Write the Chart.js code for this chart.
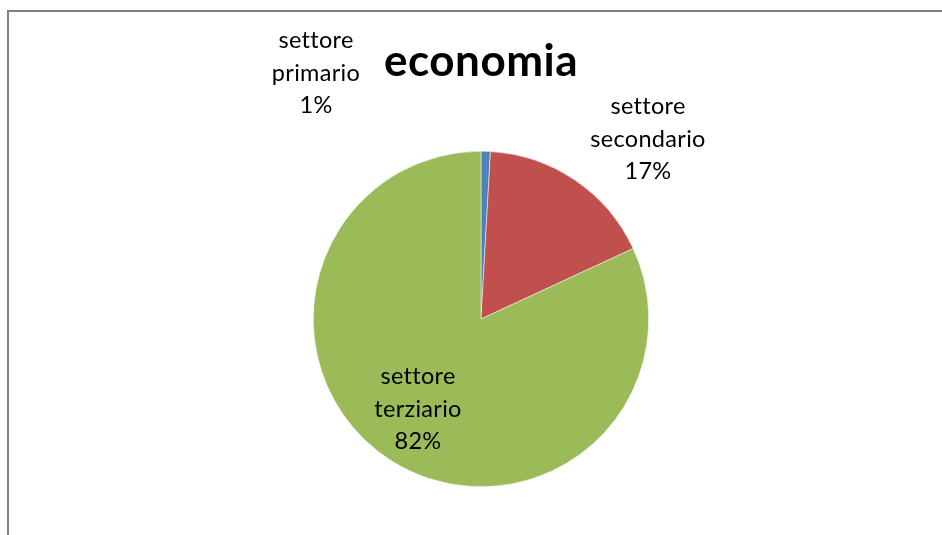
<!DOCTYPE html>
<html><head><meta charset="utf-8">
<script src="https://cdn.jsdelivr.net/npm/chart.js@4"></script>
<style>
html,body{margin:0;padding:0;background:#fff;overflow:hidden}
#wrap{position:relative;width:942px;height:535px}
#frame{position:absolute;left:7px;top:10px;width:1000px;height:600px;border-left:2px solid #808080;border-top:2px solid #808080}
canvas{position:absolute;left:0;top:0}
</style></head>
<body><div id="wrap"><div id="frame"></div><canvas id="c" width="942" height="535"></canvas></div>
<script>
const title = "economia";
const categories = ["settore primario", "settore secondario", "settore terziario"];
const labelLines = [["settore","primario"],["settore","secondario"],["settore","terziario"]];
const values = [0.9, 17.2, 81.9];
const percentLabels = ["1%", "17%", "82%"];
const colors = ["#4F81BD", "#C0504D", "#9BBB59"];

// label anchor offsets relative to pie centre (layout only)
const labelOffsets = [[-165,-246],[167,-180],[-63,90]];

const labelPlugin = {
  id: 'pieLabels',
  afterDraw(chart) {
    const ctx = chart.ctx;
    const meta = chart.getDatasetMeta(0);
    const arc0 = meta.data[0];
    const cx = arc0.x, cy = arc0.y;
    ctx.save();
    ctx.fillStyle = '#000';
    ctx.textAlign = 'center';
    ctx.textBaseline = 'middle';
    ctx.letterSpacing = '0.3px';
    ctx.font = '23.5px Lato';
    meta.data.forEach((arc, i) => {
      const lines = labelLines[i].concat([percentLabels[i]]);
      const [ox, oy] = labelOffsets[i];
      const lh = 32.5;
      lines.forEach((t, j) => {
        ctx.fillText(t, cx + ox, cy + oy + (j - 1) * lh);
      });
    });
    ctx.letterSpacing = '0.5px';
    ctx.font = 'bold 44px Lato';
    ctx.fillText(title, cx, 62);
    ctx.restore();
  }
};

new Chart(document.getElementById('c'), {
  type: 'pie',
  data: {
    labels: categories,
    datasets: [{
      data: values,
      backgroundColor: colors,
      borderColor: '#ffffff',
      borderWidth: 0.5
    }]
  },
  options: {
    responsive: false,
    animation: false,
    events: [],
    layout: { padding: { top: 151, bottom: 48, left: 20, right: 0 } },
    plugins: { legend: { display: false }, tooltip: { enabled: false }, title: { display: false } }
  },
  plugins: [labelPlugin]
});
</script></body></html>
